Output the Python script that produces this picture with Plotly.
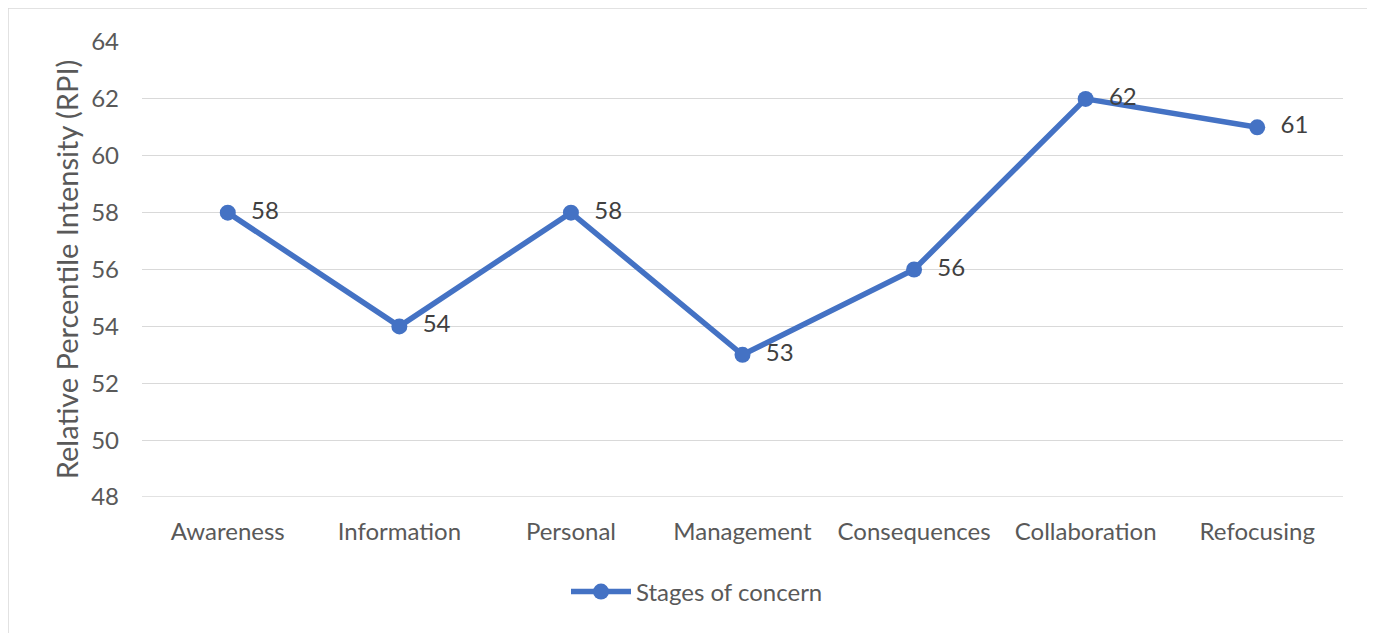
import plotly.graph_objects as go

categories = ["Awareness", "Information", "Personal", "Management", "Consequences", "Collaboration", "Refocusing"]
values = [58, 54, 58, 53, 56, 62, 61]
y_ticks = [48, 50, 52, 54, 56, 58, 60, 62, 64]

# page body has an 8px margin; work in page coordinates and subtract it
OFF = 8
W, H = 1375 - OFF, 633 - OFF
ml, mr, mt, mb = 142 - OFF, 32, 42 - OFF, 136
pw, ph = W - ml - mr, H - mt - mb

def px(x):
    return (x - OFF - ml) / pw

def py(y):
    return 1 - (y - OFF - mt) / ph

FONT = "Lato"
fig = go.Figure()
fig.add_trace(go.Scatter(
    x=categories, y=values, mode="lines+markers+text",
    name="Stages of concern",
    line=dict(color="#4472C4", width=5.5),
    marker=dict(color="#4472C4", size=16),
    text=[f"  {v}" for v in values], textposition="middle right",
    textfont=dict(color="#404040", size=24, family=FONT),
    cliponaxis=False,
))

fig.add_shape(type="rect", xref="paper", yref="paper",
              x0=px(8), x1=px(1371), y0=py(645), y1=py(8),
              line=dict(color="#d9d9d9", width=1.5), fillcolor="rgba(0,0,0,0)", layer="below")
# bottom gridline (plotly drops the grid line at the range edge)
fig.add_shape(type="line", xref="paper", yref="y", x0=0, x1=1, y0=y_ticks[0], y1=y_ticks[0],
              line=dict(color="#d9d9d9", width=1.3), layer="below")

fig.update_layout(
    width=W, height=H,
    margin=dict(l=ml, r=mr, t=mt, b=mb),
    paper_bgcolor="white", plot_bgcolor="white",
    font=dict(family=FONT, color="#595959", size=24),
    showlegend=True,
    legend=dict(orientation="h", x=px(697), xanchor="center", y=py(592), yanchor="middle",
                font=dict(size=24, color="#595959", family=FONT), itemwidth=60),
    xaxis=dict(type="category", range=[-0.5, 6.5], showgrid=False, showline=False,
               ticks="", ticklabelstandoff=18,
               tickfont=dict(size=24, color="#595959", family=FONT)),
    yaxis=dict(range=[48, 64.0], tickvals=y_ticks, showgrid=True, gridcolor="#d9d9d9", gridwidth=1.3,
               zeroline=False, showline=False, ticks="", ticklen=0, ticklabelstandoff=22,
               tickfont=dict(size=24, color="#595959", family=FONT),
               title=dict(text="Relative Percentile Intensity (RPI)",
                          font=dict(size=29, color="#595959", family=FONT), standoff=4)),
)

fig.write_html("out.html")
